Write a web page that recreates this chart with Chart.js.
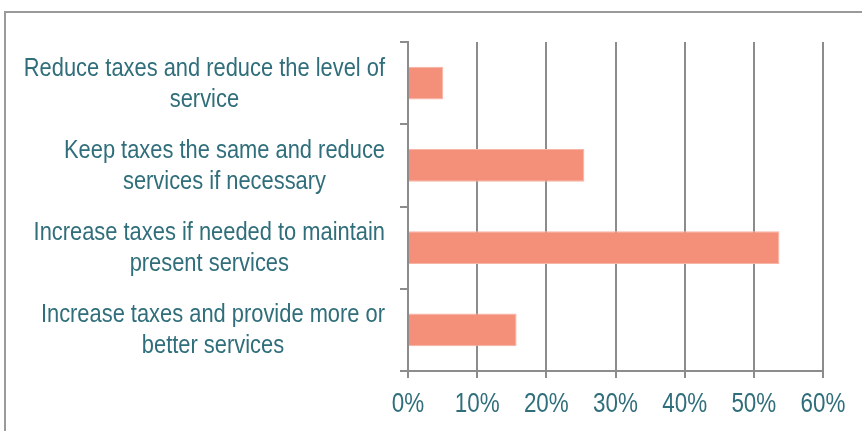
<!DOCTYPE html>
<html>
<head>
<meta charset="utf-8">
<script src="https://cdn.jsdelivr.net/npm/chart.js@4/dist/chart.umd.min.js"></script>
<style>
  html, body { margin: 0; padding: 0; background: #fff; overflow: hidden; }
  #marco { position: absolute; left: 4px; top: 11px; width: 900px; height: 500px; border: 2px solid #9a9a9a; }
  #grafica { position: absolute; left: 0; top: 0; }
</style>
</head>
<body>
<div id="marco"></div>
<canvas id="grafica" width="862" height="431"></canvas>
<script>
// Datos de la gráfica
const categorias = [
  ['Reduce taxes and reduce the level of', 'service'],
  ['Keep taxes the same and reduce', 'services if necessary'],
  ['Increase taxes if needed to maintain', 'present services'],
  ['Increase taxes and provide more or', 'better services']
];
const valores = [5.1, 25.5, 53.7, 15.7];
const marcasX = [0, 10, 20, 30, 40, 50, 60];

const colorTexto = '#2f6e7a';
const colorLinea = '#8c8c8c';
const familia = '"Liberation Sans", Arial, sans-serif';

// Texto estrecho (la fuente original es condensada): se escala en horizontal
function textoEstrecho(ctx, texto, x, y, k) {
  ctx.save();
  ctx.translate(x, y);
  ctx.scale(k, 1);
  ctx.fillText(texto, 0, 0);
  ctx.restore();
}

// Dibuja las etiquetas de ambos ejes
const etiquetas = {
  id: 'etiquetas',
  afterDraw(chart) {
    const ctx = chart.ctx;
    const ejeY = chart.scales.y;
    const ejeX = chart.scales.x;
    ctx.save();
    ctx.fillStyle = colorTexto;
    ctx.textAlign = 'center';
    ctx.textBaseline = 'middle';

    // Eje Y: bloque alineado a la derecha, líneas centradas
    const kY = 0.875;
    const derecha = 385;
    const alto = 31;
    ctx.font = '25px ' + familia;
    categorias.forEach((lineas, i) => {
      const centroY = ejeY.getPixelForValue(i);
      const ancho = Math.max(...lineas.map(l => ctx.measureText(l).width)) * kY;
      const centroX = derecha - ancho / 2;
      lineas.forEach((l, j) => {
        textoEstrecho(ctx, l, centroX, centroY + (j - (lineas.length - 1) / 2) * alto + 1, kY);
      });
    });

    // Eje X: porcentajes
    ctx.font = '27px ' + familia;
    marcasX.forEach(v => {
      textoEstrecho(ctx, v + '%', ejeX.getPixelForValue(v), ejeX.top + 34, 0.83);
    });
    ctx.restore();
  }
};

const contexto = document.getElementById('grafica').getContext('2d');
new Chart(contexto, {
  type: 'bar',
  data: {
    labels: categorias.map(c => c.join(' ')),
    datasets: [{
      data: valores,
      backgroundColor: '#f4907a',
      borderColor: '#f7b3a3',
      borderWidth: 1,
      barPercentage: 0.4,
      categoryPercentage: 1
    }]
  },
  options: {
    indexAxis: 'y',
    responsive: false,
    animation: false,
    layout: { padding: { top: 42, right: 39, left: 0, bottom: 0 } },
    plugins: { legend: { display: false }, tooltip: { enabled: false } },
    scales: {
      x: {
        min: 0,
        max: 60,
        afterBuildTicks: (s) => { s.ticks = marcasX.map(v => ({ value: v })); },
        afterFit: (s) => { s.height = 60; },
        ticks: { display: false },
        grid: { color: colorLinea, lineWidth: 2, tickLength: 7 },
        border: { color: colorLinea, width: 2 }
      },
      y: {
        afterFit: (s) => { s.width = 408; },
        ticks: { display: false },
        grid: { offset: true, drawOnChartArea: false, color: colorLinea, lineWidth: 2, tickLength: 8 },
        border: { color: colorLinea, width: 2 }
      }
    }
  },
  plugins: [etiquetas]
});
</script>
</body>
</html>
